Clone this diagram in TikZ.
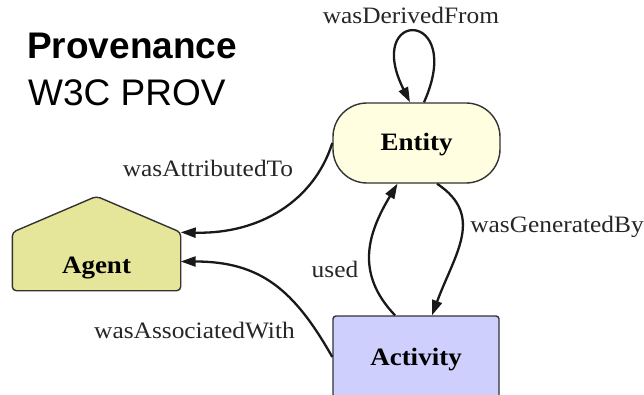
\documentclass[tikz,border=0pt]{standalone}
\usepackage{fontspec}
\setmainfont{Liberation Serif}[FakeStretch=1.08]
\newfontfamily\titlefont{Liberation Sans}
\usetikzlibrary{arrows.meta,backgrounds}

\definecolor{entityfill}{HTML}{FFFEE0}
\definecolor{agentfill}{HTML}{E6E69A}
\definecolor{activityfill}{HTML}{CFCFFE}

\begin{document}
\begin{tikzpicture}[x=1pt, y=-1pt, every node/.style={font=\fontsize{23.5}{27}\selectfont}, >={Triangle[length=15pt, width=10pt]},
	kind/.style={draw=black!80, line width=1.4pt, font=\fontsize{25}{29}\selectfont\bfseries, inner sep=0pt, text height=16pt, text depth=0pt},
	link/.style={->, line width=2.3pt, black!90},
	lbl/.style={text=black!85, inner sep=0pt, anchor=base}]
	\useasboundingbox (0,0) rectangle (644,395);
	\node[anchor=base west, inner sep=0pt, font=\titlefont\fontsize{37}{41}\selectfont\bfseries] (title) at (27,59) {Provenance};
	\node[anchor=base west, inner sep=0pt, font=\titlefont\fontsize{37}{41}\selectfont] (subtitle) at (28,106) {W3C PROV};
	\node[kind, fill=entityfill, rounded corners=34pt, minimum width=167pt, minimum height=80pt] (entity) at (416.5,143) {Entity};
	\node[kind, fill=activityfill, rounded corners=3pt, minimum width=166pt, minimum height=82pt] (activity) at (416,357) {Activity};
	\node[kind, draw=none, minimum width=167pt, minimum height=57pt, text height=23pt] (agent) at (96.5,261.5) {Agent};
	\begin{scope}[on background layer]
		\draw[draw=black!80, line width=1.4pt, fill=agentfill, rounded corners=4pt] (agent.south) -- (agent.south west) -- (agent.north west) -- ([yshift=36pt]agent.north) -- (agent.north east) -- (agent.south east) -- cycle;
	\end{scope}
	% relations
	\draw[link] ([xshift=7.5pt]entity.north) .. controls +(42,-94) and +(-47,-94) .. ([xshift=-6.5pt]entity.north);
	\draw[link] (entity.west) .. controls +(-18,57) and +(80,2) .. (agent.north east);
	\draw[link] (activity.west) .. controls +(-38,-67) and +(80,0) .. (agent.east);
	\draw[link] ([xshift=-21pt]activity.north) .. controls +(-40,-42) and +(-30,50) .. ([xshift=-19pt]entity.south);
	\draw[link] ([xshift=20.5pt]entity.south) .. controls +(48,32) and +(23,-62) .. ([xshift=16pt]activity.north);
	\node[lbl] (derived) at (411,24) {wasDerivedFrom};
	\node[lbl] (attributed) at (208,177) {wasAttributedTo};
	\node[lbl] (associated) at (194.5,338) {wasAssociatedWith};
	\node[lbl] (used) at (335,277) {used};
	\node[lbl] (generated) at (557,233) {wasGeneratedBy};
\end{tikzpicture}
\end{document}
